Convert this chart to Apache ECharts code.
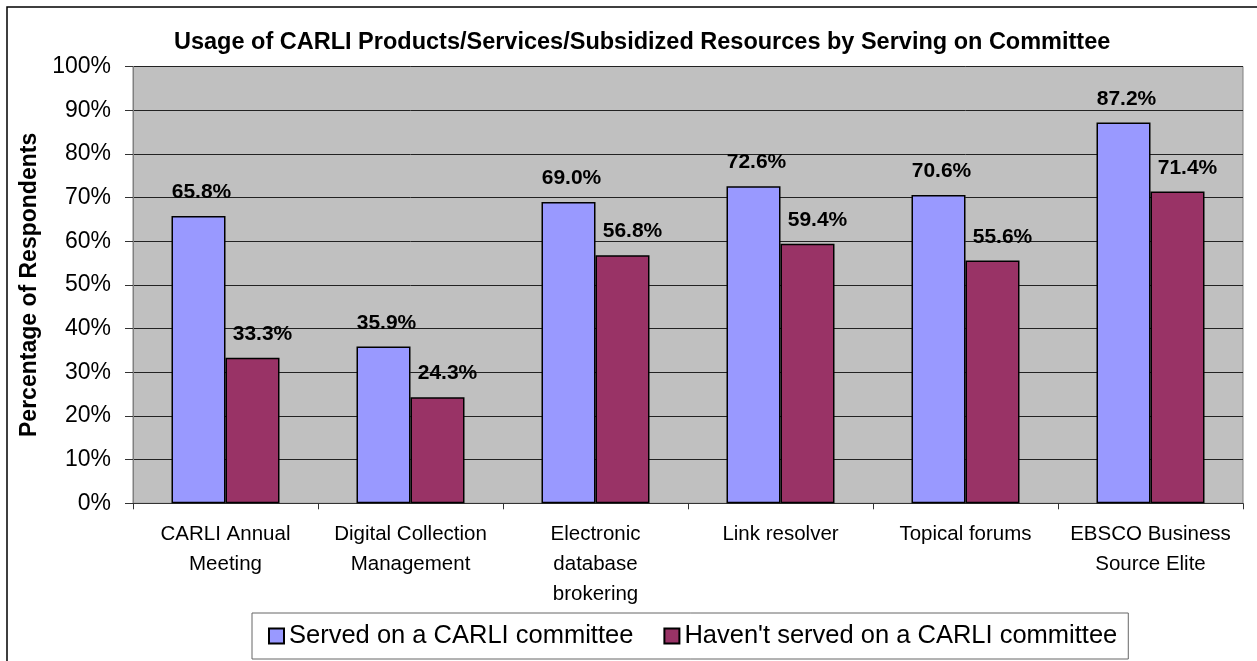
<!DOCTYPE html>
<html>
<head>
<meta charset="utf-8">
<script src="https://cdn.jsdelivr.net/npm/echarts@6/dist/echarts.min.js"></script>
<style>html,body{margin:0;padding:0;background:#fff;}#c{width:1257px;height:661px;}</style>
</head>
<body>
<div id="c"></div>
<script>
const titleText = 'Usage of CARLI Products/Services/Subsidized Resources by Serving on Committee';
const categories = ['CARLI Annual\nMeeting', 'Digital Collection\nManagement', 'Electronic\ndatabase\nbrokering', 'Link resolver', 'Topical forums', 'EBSCO Business\nSource Elite'];
const seriesNames = ['Served on a CARLI committee', "Haven't served on a CARLI committee"];
const served = [65.8, 35.9, 69.0, 72.6, 70.6, 87.2];
const notServed = [33.3, 24.3, 56.8, 59.4, 55.6, 71.4];
const yAxisName = 'Percentage of Respondents';

const FONT = '"Liberation Sans", Arial, sans-serif';
const chart = echarts.init(document.getElementById('c'), null, {renderer: 'canvas'});

function labelCfg(dx) {
  return {
    show: true, position: 'top', distance: 13, offset: [dx, 0],
    formatter: p => p.value.toFixed(1) + '%',
    fontFamily: FONT, fontWeight: 'bold', fontSize: 21, color: '#000'
  };
}

chart.setOption({
  animation: false,
  backgroundColor: '#fff',
  graphic: [{
    type: 'rect', shape: {x: 7, y: 7, width: 1400, height: 800},
    style: {fill: 'none', stroke: '#000', lineWidth: 1.5}, z: 100, silent: true
  }],
  title: {
    text: titleText, left: 169, top: 26,
    textStyle: {fontFamily: FONT, fontWeight: 'bold', fontSize: 23.5, color: '#000'}
  },
  grid: {
    left: 133, right: 14, top: 66.5, bottom: 157.7,
    show: true, backgroundColor: '#C0C0C0', borderColor: '#808080', borderWidth: 1
  },
  legend: {
    left: 252, top: 613,
    padding: [10, 11, 10, 16],
    itemWidth: 15, itemHeight: 15, itemGap: 30,
    borderColor: '#666', borderWidth: 1,
    icon: 'rect',
    textStyle: {fontFamily: FONT, fontSize: 25.5, color: '#000'},
    data: seriesNames
  },
  xAxis: {
    type: 'category', data: categories,
    axisLine: {lineStyle: {color: '#333', width: 1}},
    axisTick: {show: true, length: 6, lineStyle: {color: '#333'}},
    axisLabel: {fontFamily: FONT, fontSize: 20.5, color: '#000', margin: 16, lineHeight: 30, interval: 0}
  },
  yAxis: {
    type: 'value', min: 0, max: 100, interval: 10,
    name: yAxisName, nameLocation: 'middle', nameGap: 90, nameRotate: 90,
    nameTextStyle: {fontFamily: FONT, fontWeight: 'bold', fontSize: 23, color: '#000'},
    axisLine: {show: true, lineStyle: {color: '#808080'}},
    axisTick: {show: true, length: 8, lineStyle: {color: '#333'}},
    axisLabel: {formatter: '{value}%', fontFamily: FONT, fontSize: 23, color: '#000', margin: 22},
    splitLine: {show: true, lineStyle: {color: '#222', width: 1}}
  },
  series: [
    {
      name: seriesNames[0], type: 'bar', data: served,
      barWidth: 54, barGap: '0%',
      itemStyle: {color: '#9999FF', borderColor: '#000', borderWidth: 1.5},
      label: labelCfg(3)
    },
    {
      name: seriesNames[1], type: 'bar', data: notServed,
      barWidth: 54, barGap: '0%',
      itemStyle: {color: '#993366', borderColor: '#000', borderWidth: 1.5},
      label: labelCfg(10)
    }
  ]
});
</script>
</body>
</html>
